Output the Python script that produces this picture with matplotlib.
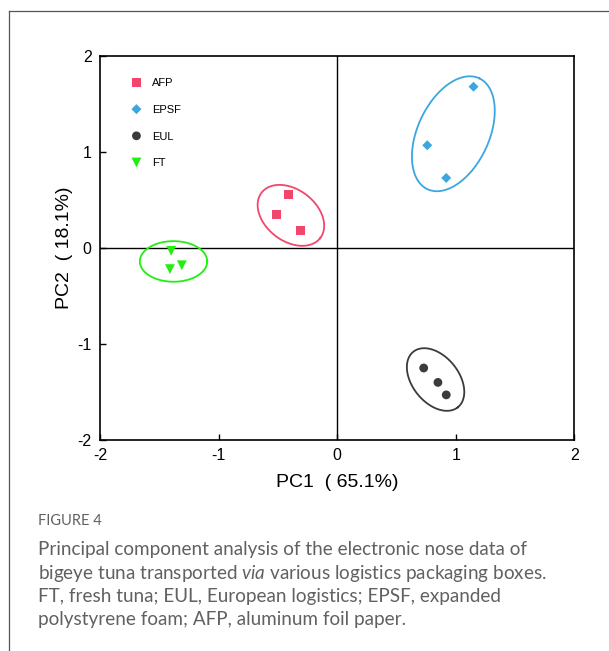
import numpy as np
import matplotlib
matplotlib.use("Agg")
import matplotlib.pyplot as plt
from matplotlib.lines import Line2D

plt.rcParams['font.family'] = ['Liberation Sans', 'DejaVu Sans']
plt.rcParams['mathtext.fontset'] = 'custom'
plt.rcParams['mathtext.it'] = 'Lato:italic'
plt.rcParams['mathtext.rm'] = 'Lato'

# ---- data -------------------------------------------------------------
groups = ["AFP", "EPSF", "EUL", "FT"]
afp_pc1 = [-0.41, -0.51, -0.31]
afp_pc2 = [0.56, 0.35, 0.18]
epsf_pc1 = [1.15, 0.76, 0.92]
epsf_pc2 = [1.68, 1.07, 0.73]
eul_pc1 = [0.73, 0.85, 0.92]
eul_pc2 = [-1.25, -1.40, -1.53]
ft_pc1 = [-1.40, -1.41, -1.31]
ft_pc2 = [-0.03, -0.22, -0.18]

# confidence ellipses: centre (data units), semi-axes (px), angle (deg)
ell_center_x = [-0.39, 0.98, 0.83, -1.38]
ell_center_y = [0.34, 1.19, -1.37, -0.14]
ell_semi_a = [37.1, 61.2, 35.6, 33.7]
ell_semi_b = [25.7, 35.7, 23.2, 20.3]
ell_angle = [-37.8, 65.0, -51.2, 0.0]

xticks = [-2, -1, 0, 1, 2]
yticks = [-2, -1, 0, 1, 2]
xlabel = "PC1  ( 65.1%)"
ylabel = "PC2  ( 18.1%)"

colors = ["#f2476d", "#3aa7e0", "#3b3b3b", "#22ee11"]
markers = ["s", "D", "o", "v"]
sizes = [40, 26, 40, 50]

caption_title = "FIGURE 4"
caption_lines = [
    "Principal component analysis of the electronic nose data of",
    "bigeye tuna transported $\\mathit{via}$ various logistics packaging boxes.",
    "FT, fresh tuna; EUL, European logistics; EPSF, expanded",
    "polystyrene foam; AFP, aluminum foil paper.",
]

# ---- figure -----------------------------------------------------------
W, H = 609, 651
fig = plt.figure(figsize=(W / 100, H / 100), dpi=100)

# outer frame (top and left border)
fig.add_artist(Line2D([8.5 / W, 1.0], [1 - 10.5 / H, 1 - 10.5 / H],
                      transform=fig.transFigure, color="#555555", lw=0.9))
fig.add_artist(Line2D([8.5 / W, 8.5 / W], [1 - 10.5 / H, 0.0],
                      transform=fig.transFigure, color="#555555", lw=0.9))

ax = fig.add_axes([100 / W, 1 - 440 / H, 474.3 / W, 384 / H])
ax.set_xlim(-2, 2)
ax.set_ylim(-2, 2)
ax.set_xticks(xticks)
ax.set_yticks(yticks)
ax.set_xticklabels([str(v) for v in xticks])
ax.set_yticklabels([str(v) for v in yticks])
ax.tick_params(direction="in", length=4.5, width=1.0, labelsize=11.5,
               pad=6, colors="black")
for s in ax.spines.values():
    s.set_linewidth(1.2)
ax.axhline(0, color="black", lw=1.0, zorder=1)
ax.axvline(0, color="black", lw=1.0, zorder=1)

ax.set_xlabel(xlabel, fontsize=14, labelpad=8)
ax.set_ylabel(ylabel, fontsize=14, labelpad=3)

xs = [afp_pc1, epsf_pc1, eul_pc1, ft_pc1]
ys = [afp_pc2, epsf_pc2, eul_pc2, ft_pc2]
for g, x, y, c, m, sz in zip(groups, xs, ys, colors, markers, sizes):
    ax.scatter(x, y, s=sz, marker=m, color=c, edgecolors="none",
               label=g, zorder=3)

# ellipses drawn in display pixels, converted to data coordinates
fig.canvas.draw()
inv = ax.transData.inverted()
t = np.linspace(0, 2 * np.pi, 200)
for cx, cy, a, b, ang, c in zip(ell_center_x, ell_center_y, ell_semi_a,
                                 ell_semi_b, ell_angle, colors):
    th = np.deg2rad(ang)
    dx = a * np.cos(t) * np.cos(th) - b * np.sin(t) * np.sin(th)
    dy = a * np.cos(t) * np.sin(th) + b * np.sin(t) * np.cos(th)
    c0 = ax.transData.transform((cx, cy))
    pts = inv.transform(np.column_stack([c0[0] + dx, c0[1] + dy]))
    ax.plot(pts[:, 0], pts[:, 1], color=c, lw=1.3, zorder=2)

leg = ax.legend(loc="upper left", frameon=False, fontsize=8,
                bbox_to_anchor=(0.037, 0.962), handletextpad=0.4,
                labelspacing=1.5, borderaxespad=0.3, scatteryoffsets=[0.5])

# caption
fig.text(38 / W, 1 - 521 / H, caption_title, fontsize=10.5, color="#606060",
         family=["Lato", "DejaVu Sans"], va="center", ha="left")
for i, line in enumerate(caption_lines):
    fig.text(38 / W, 1 - (550 + 23.3 * i) / H, line, fontsize=13.6,
             color="#616161", family=["Lato", "DejaVu Sans"],
             va="center", ha="left")

fig.savefig("out.png", dpi=100)
